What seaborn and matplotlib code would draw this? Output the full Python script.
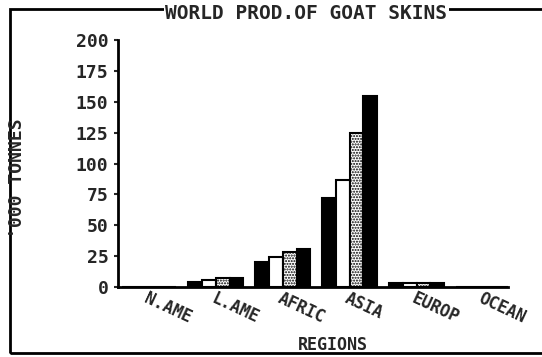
import pandas as pd
import matplotlib.pyplot as plt
import matplotlib.patches as mpatches
import seaborn as sns

# ===== DATA =====
regions = ["N.AME", "L.AME", "AFRIC", "ASIA", "EUROP", "OCEAN"]
series = ["S1", "S2", "S3", "S4"]
s1 = [0, 4, 20, 72, 3, 0]
s2 = [0, 6, 24, 87, 3, 0]
s3 = [0, 7, 28, 125, 3, 0]
s4 = [0, 7, 31, 155, 3, 0]
y_ticks = [0, 25, 50, 75, 100, 125, 150, 175, 200]

rows = []
for name, vals in zip(series, [s1, s2, s3, s4]):
    for reg, v in zip(regions, vals):
        rows.append({"region": reg, "series": name, "value": v})
df = pd.DataFrame(rows)

sns.set_theme(style="white")
plt.rcParams['font.family'] = ['DejaVu Sans Mono', 'DejaVu Sans']
plt.rcParams['font.weight'] = 'bold'

fig = plt.figure(figsize=(5.42, 3.57), dpi=100)
ax = fig.add_axes([0.218, 0.196, 0.72, 0.692])

sns.barplot(data=df, x="region", y="value", hue="series", order=regions,
            hue_order=series, width=0.82, legend=False, ax=ax,
            palette=["black"] * 4, saturation=1)

# bar fills: solid, open, stippled, solid
faces = ["black", "white", "white", "black"]
hatches = [None, None, "......", None]
for cont, fc, h in zip(ax.containers, faces, hatches):
    for bar in cont:
        bar.set_facecolor(fc)
        bar.set_edgecolor("black")
        bar.set_linewidth(1.5)
        if h:
            bar.set_hatch(h)

ax.set_ylim(0, 200)
ax.set_xlim(-0.46, 5.37)
ax.set_yticks(y_ticks)
ax.set_yticklabels([str(t) for t in y_ticks], fontsize=13, fontweight='bold')
ax.tick_params(axis='y', direction='out', length=3, width=1.5, pad=4, left=True)
ax.tick_params(axis='x', length=0, pad=2)
ax.set_xticks(range(len(regions)))
ax.set_xticklabels(regions, fontsize=12, fontweight='bold', rotation=-25,
                   ha='left', rotation_mode='anchor')
ax.set_xlabel("REGIONS", fontsize=12, fontweight='bold', labelpad=0)
ax.xaxis.set_label_coords(0.55, -0.2)
ax.set_ylabel("")
fig.text(0.032, 0.50, "'000 TONNES", rotation=90, ha='center', va='center',
         fontsize=13, fontweight='bold')

sns.despine(ax=ax, top=True, right=True)
for sp in ["left", "bottom"]:
    ax.spines[sp].set_linewidth(2)
    ax.spines[sp].set_color("black")

# outer frame of the screen (right side runs off the picture)
fig.patches.append(mpatches.Rectangle((0.018, 0.01), 1.0, 0.965, transform=fig.transFigure,
                                      fill=False, edgecolor="black", linewidth=2))
fig.text(0.565, 0.962, "WORLD PROD.OF GOAT SKINS", ha='center', va='center',
         fontsize=14, fontweight='bold',
         bbox=dict(facecolor='white', edgecolor='none', pad=1))

fig.savefig("out.png", dpi=100)
